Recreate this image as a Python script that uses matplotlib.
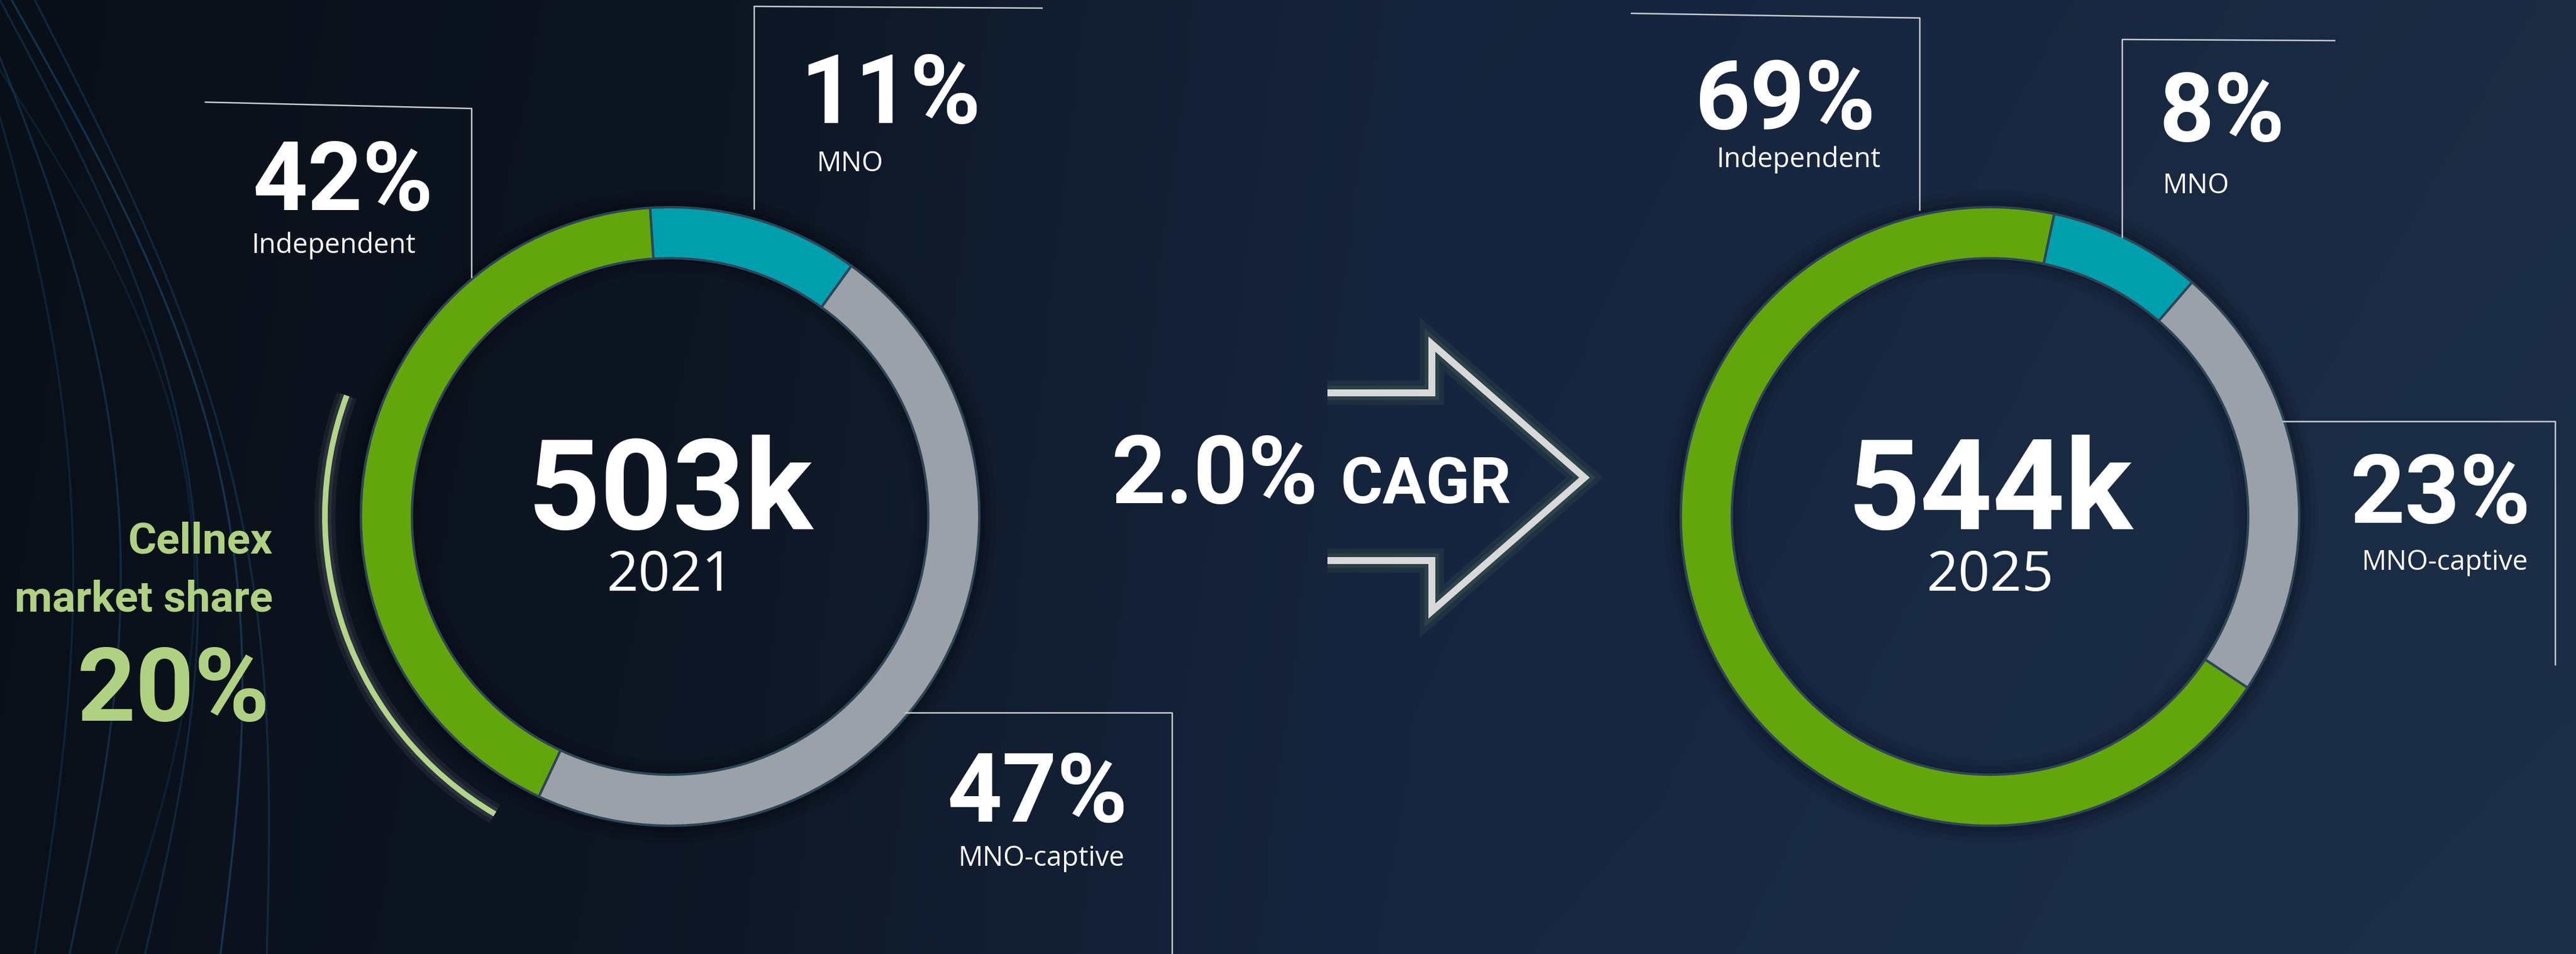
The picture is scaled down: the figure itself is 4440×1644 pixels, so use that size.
import matplotlib
matplotlib.use("Agg")
import matplotlib.pyplot as plt
import numpy as np
from matplotlib.colors import to_rgb
from matplotlib.patches import Arc, Circle, Wedge

W, H = 4440, 1644
DPI = 100

# data
SEGMENTS = ["Independent", "MNO", "MNO-captive"]
SHARE_2021 = [42, 11, 47]
SHARE_2025 = [69, 8, 23]
TOTALS = ["503k", "544k"]
YEARS = ["2021", "2025"]
CAGR = "2.0%"
CELLNEX_SHARE = 20

COLORS = ["#63a60c", "#009fad", "#9aa1a8"]
EDGE = "#2e4457"
LINE = "#c9cdd2"
R_OUT, R_IN = 533, 445
BIG = ["Roboto", "DejaVu Sans"]
SMALL = ["Open Sans", "DejaVu Sans"]


def py(y):
    # pixel row (from top) to data y
    return H - y


def background(ax):
    stops = [(0.0, "#0a1019"), (0.28, "#0e1725"), (0.55, "#172640"), (1.0, "#1c2e47")]
    xs = np.linspace(0, 1, 600)
    rgb = np.zeros((len(xs), 3))
    for c in range(3):
        rgb[:, c] = np.interp(xs, [s[0] for s in stops], [to_rgb(s[1])[c] for s in stops])
    ys = np.linspace(0, 1, 200)[:, None, None]
    img = rgb[None, :, :] * (0.94 + 0.08 * ys)
    ax.imshow(np.clip(img, 0, 1), extent=(0, W, 0, H), aspect="auto", zorder=0)

    # decorative streaks on the far left
    t = np.linspace(0, 1, 200)
    for x0, x1, bow, a in [(-40, 120, 160, 0.35), (0, 250, 200, 0.3), (20, 380, 180, 0.45),
                           (-60, 60, 120, 0.25), (60, 460, 140, 0.3), (-80, 200, 260, 0.2)]:
        xs_ = x0 + (x1 - x0) * t + bow * np.sin(np.pi * t)
        ys_ = H * (1 - t)
        ax.plot(xs_, ys_, color="#1f5c90", lw=2.5, alpha=a, zorder=1)


def donut(ax, cx, cy, values, mno_start):
    start = 90 - mno_start + values[0] * 3.6
    # soft shadow just outside and inside the ring
    for extra, a in [(30, 0.06), (20, 0.08), (10, 0.12)]:
        ax.add_patch(Wedge((cx, py(cy)), R_OUT + extra, 0, 360, width=extra + 5,
                           color="black", alpha=a, lw=0, zorder=2))
        ax.add_patch(Wedge((cx, py(cy)), R_IN + 5, 0, 360, width=extra,
                           color="black", alpha=a, lw=0, zorder=2))
    wedges, _ = ax.pie(values, colors=COLORS, radius=R_OUT, center=(cx, py(cy)),
                       startangle=start, counterclock=False,
                       wedgeprops=dict(width=R_OUT - R_IN, edgecolor=EDGE, linewidth=3))
    for w in wedges:
        w.set_zorder(3)


def label(ax, x, y, pct, name, nx, ny, ha="center"):
    ax.text(x, py(y), f"{pct}%", color="white", fontsize=119, family=BIG, weight="bold",
            ha="center", va="baseline", zorder=5)
    ax.text(nx, py(ny), name, color="white", fontsize=34, family=SMALL,
            ha=ha, va="baseline", zorder=5)


def leader(ax, pts):
    ax.plot([p[0] for p in pts], [py(p[1]) for p in pts], color=LINE, lw=1.8, zorder=4)


fig = plt.figure(figsize=(W / DPI, H / DPI), dpi=DPI)
ax = fig.add_axes([0, 0, 1, 1])
background(ax)

# 2021
cx1, cx2, cy = 1155, 3430, 890
donut(ax, cx1, cy, SHARE_2021, -3.7)
leader(ax, [(354, 176), (813, 187), (813, 478)])
leader(ax, [(1300, 360), (1300, 11), (1796, 14)])
leader(ax, [(1561, 1228), (2020, 1228), (2020, 1644)])
label(ax, 591, 362, SHARE_2021[0], SEGMENTS[0], 575, 436)
label(ax, 1535, 212, SHARE_2021[1], SEGMENTS[1], 1407, 295, ha="left")
label(ax, 1788, 1416, SHARE_2021[2], SEGMENTS[2], 1795, 1492)
ax.text(cx1, py(912), TOTALS[0], color="white", fontsize=157, family=BIG, weight="bold",
        ha="center", va="baseline", zorder=5)
ax.text(cx1, py(1018), YEARS[0], color="white", fontsize=69, family=SMALL,
        ha="center", va="baseline", zorder=5)

# Cellnex market share arc
mid = 199.5
span = CELLNEX_SHARE * 3.6
for lw, a, col in [(26, 0.06, "white"), (16, 0.08, "white"), (7, 1, "#b3d48a")]:
    ax.add_patch(Arc((cx1, py(cy)), 2 * 595, 2 * 595, theta1=mid - span / 2 - 4,
                     theta2=mid + span / 2 + 4, color=col, lw=lw, alpha=a, zorder=3))
ax.text(470, py(953), "Cellnex", color="#b0d182", fontsize=54, family=BIG, weight="bold",
        ha="right", va="baseline", zorder=5)
ax.text(470, py(1053), "market share", color="#b0d182", fontsize=54, family=BIG, weight="bold",
        ha="right", va="baseline", zorder=5)
ax.text(466, py(1242), f"{CELLNEX_SHARE}%", color="#b0d182", fontsize=127, family=BIG,
        weight="bold", ha="right", va="baseline", zorder=5)

# arrow
arrow = [(2288, 677), (2468, 677), (2468, 593), (2731, 823), (2468, 1053), (2468, 966), (2288, 966)]
for lw, a, col in [(30, 0.07, "#9fd07f"), (18, 0.1, "#9fd07f"), (8.6, 1, "#d9d9d9")]:
    ax.plot([p[0] for p in arrow], [py(p[1]) for p in arrow], color=col, lw=lw, alpha=a,
            solid_joinstyle="miter", solid_capstyle="butt", zorder=4)
ax.text(1915, py(867), CAGR, color="white", fontsize=118, family=BIG, weight="bold",
        ha="left", va="baseline", zorder=5)
ax.text(2310, py(867), "CAGR", color="white", fontsize=80, family=BIG, weight="bold",
        ha="left", va="baseline", zorder=5)

# 2025
donut(ax, cx2, cy, SHARE_2025, 12)
leader(ax, [(2812, 23), (3309, 31), (3309, 362)])
leader(ax, [(3658, 409), (3658, 68), (4024, 70)])
leader(ax, [(3935, 726), (4404, 726), (4404, 1145)])
label(ax, 3078, 222, SHARE_2025[0], SEGMENTS[0], 3100, 288)
label(ax, 3830, 243, SHARE_2025[1], SEGMENTS[1], 3727, 333, ha="left")
label(ax, 4206, 901, SHARE_2025[2], SEGMENTS[2], 4214, 982)
ax.text(cx2, py(912), TOTALS[1], color="white", fontsize=157, family=BIG, weight="bold",
        ha="center", va="baseline", zorder=5)
ax.text(cx2, py(1018), YEARS[1], color="white", fontsize=69, family=SMALL,
        ha="center", va="baseline", zorder=5)

ax.set_xlim(0, W)
ax.set_ylim(0, H)
ax.set_aspect("auto")
ax.axis("off")
fig.savefig("out.png", dpi=DPI)
